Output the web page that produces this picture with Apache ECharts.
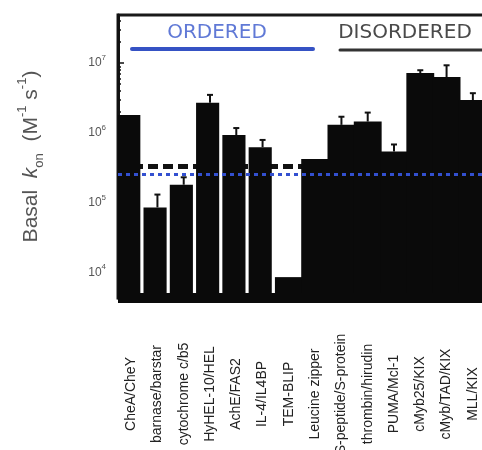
<!DOCTYPE html>
<html>
<head>
<meta charset="utf-8">
<script src="https://cdn.jsdelivr.net/npm/echarts@6/dist/echarts.min.js"></script>
<style>
  html, body { margin: 0; padding: 0; background: #fff; }
  #chart { width: 482px; height: 450px; }
</style>
</head>
<body>
<div id="chart"></div>
<script>
// basal association rate constants, M^-1 s^-1
var categories = ['CheA/CheY', 'barnase/barstar', 'cytochrome c/b5', 'HyHEL-10/HEL', 'AchE/FAS2',
  'IL-4/IL4BP', 'TEM-BLIP', 'Leucine zipper', 'S-peptide/S-protein', 'thrombin/hirudin',
  'PUMA/Mcl-1', 'cMyb25/KIX', 'cMyb/TAD/KIX', 'MLL/KIX'];
var konValues = [1.8e6, 8.5e4, 1.8e5, 2.7e6, 9.3e5, 6.2e5, 8.5e3, 4.2e5, 1.3e6, 1.45e6,
  5.4e5, 7.2e6, 6.3e6, 2.95e6];
var errUpper = [null, 1.3e5, 2.3e5, 3.5e6, 1.17e6, 7.9e5, null, null, 1.7e6, 1.95e6,
  6.8e5, 7.9e6, 9.3e6, 3.7e6];
var blackRefLevel = 3.3e5;
var blueRefLevel = 2.6e5;
var yTickPowers = [4, 5, 6, 7];
var yMinPow = 3.63, yMaxPow = 7.69;

var lg = function (v) { return Math.log10(v); };

var minorTicks = [];
for (var k = 3; k <= 7; k++) {
  for (var m = 2; m <= 9; m++) {
    var t = lg(m * Math.pow(10, k));
    if (t > yMinPow && t < yMaxPow) minorTicks.push(t);
  }
}

var gapped = 6; // first bars are drawn a bit narrower, leaving white gaps

var narrowBars = konValues.map(function (v, i) { return i < gapped ? lg(v) : '-'; });
var wideBars = konValues.map(function (v, i) { return i < gapped ? '-' : lg(v); });

var errData = [];
errUpper.forEach(function (e, i) {
  if (e != null) errData.push([i, lg(konValues[i]), lg(e)]);
});

var myChart = echarts.init(document.getElementById('chart'));

var option = {
  animation: false,
  grid: {
    left: 118, top: 15, right: -4, bottom: 152,
    outerBoundsMode: 'none',
    show: true, borderColor: '#1a1a1a', borderWidth: 3
  },
  xAxis: {
    type: 'category',
    data: categories,
    z: 6,
    axisLine: { lineStyle: { color: '#0a0a0a', width: 10, cap: 'butt' } },
    axisTick: { show: false },
    axisLabel: {
      interval: 0, rotate: 90, align: 'center', verticalAlign: 'middle',
      margin: 96, fontSize: 14, color: '#222', fontFamily: 'Liberation Sans'
    }
  },
  yAxis: [{
    type: 'value',
    min: yMinPow, max: yMaxPow,
    splitLine: { show: false },
    axisLine: { show: true, lineStyle: { color: '#111', width: 3 } },
    axisTick: { show: true, inside: true, length: 6, customValues: yTickPowers,
      lineStyle: { color: '#111', width: 1.5 } },
    axisLabel: {
      customValues: yTickPowers, margin: 12,
      formatter: function (v) { return '{a|10}{e|' + v + '}'; },
      rich: {
        a: { fontSize: 12, color: '#555', fontFamily: 'Liberation Sans', lineHeight: 18 },
        e: { fontSize: 8, color: '#555', fontFamily: 'Liberation Sans', verticalAlign: 'top', lineHeight: 10 }
      }
    },
    name: '{n|Basal  }{i|k}{s|on}{n|  (M}{p|-1}{n| s}{p|-1}{n|)}',
    nameLocation: 'middle', nameRotate: 90, nameGap: 72,
    nameTextStyle: {
      rich: {
        n: { fontSize: 21, color: '#555', fontFamily: 'Liberation Sans', lineHeight: 30 },
        i: { fontSize: 21, color: '#555', fontFamily: 'Liberation Sans', fontStyle: 'italic', lineHeight: 30 },
        s: { fontSize: 13, color: '#555', fontFamily: 'Liberation Sans', verticalAlign: 'bottom', lineHeight: 14 },
        p: { fontSize: 13, color: '#555', fontFamily: 'Liberation Sans', verticalAlign: 'top', lineHeight: 14 }
      }
    }
  }, {
    type: 'value',
    position: 'left',
    min: yMinPow, max: yMaxPow,
    splitLine: { show: false },
    axisLine: { show: false },
    axisLabel: { show: false },
    axisTick: { show: true, inside: true, length: 3, customValues: minorTicks,
      lineStyle: { color: '#111', width: 1.5 } }
  }],
  series: [{
    type: 'line',
    data: [],
    z: 1,
    markLine: {
      silent: true, symbol: 'none', label: { show: false }, z: 1,
      lineStyle: { color: '#111', width: 5, type: [10, 5] },
      data: [{ yAxis: lg(blackRefLevel) }]
    }
  }, {
    type: 'bar',
    data: narrowBars,
    barWidth: '88%',
    barGap: '-100%',
    itemStyle: { color: '#0a0a0a' },
    z: 2
  }, {
    type: 'bar',
    data: wideBars,
    barWidth: '106%',
    barGap: '-100%',
    itemStyle: { color: '#0a0a0a' },
    z: 2
  }, {
    type: 'custom',
    data: errData,
    encode: { x: 0, y: [1, 2] },
    z: 3,
    renderItem: function (params, api) {
      var x = api.value(0);
      var p0 = api.coord([x, api.value(1)]);
      var p1 = api.coord([x, api.value(2)]);
      var w = 3;
      return {
        type: 'group',
        children: [
          { type: 'line', shape: { x1: p0[0], y1: p0[1], x2: p1[0], y2: p1[1] },
            style: { stroke: '#111', lineWidth: 2 } },
          { type: 'line', shape: { x1: p1[0] - w, y1: p1[1], x2: p1[0] + w, y2: p1[1] },
            style: { stroke: '#111', lineWidth: 2 } }
        ]
      };
    }
  }, {
    type: 'line',
    data: [],
    z: 10,
    markLine: {
      silent: true, symbol: 'none', label: { show: false }, z: 10,
      lineStyle: { color: '#3350d0', width: 3, type: [4, 4] },
      data: [{ yAxis: lg(blueRefLevel) }]
    }
  }],
  graphic: [
    { type: 'text', x: 217, y: 33,
      style: { text: 'ORDERED', fill: '#6079d6', fontSize: 20, fontFamily: 'DejaVu Sans',
        align: 'center', verticalAlign: 'middle' } },
    { type: 'line', shape: { x1: 132, y1: 49, x2: 313, y2: 49 },
      style: { stroke: '#3552c4', lineWidth: 4, lineCap: 'round' } },
    { type: 'text', x: 405, y: 33,
      style: { text: 'DISORDERED', fill: '#4a4a4a', fontSize: 20, fontFamily: 'DejaVu Sans',
        align: 'center', verticalAlign: 'middle' } },
    { type: 'line', shape: { x1: 340, y1: 50, x2: 490, y2: 50 },
      style: { stroke: '#333', lineWidth: 3, lineCap: 'round' } }
  ]
};

myChart.setOption(option);
</script>
</body>
</html>
